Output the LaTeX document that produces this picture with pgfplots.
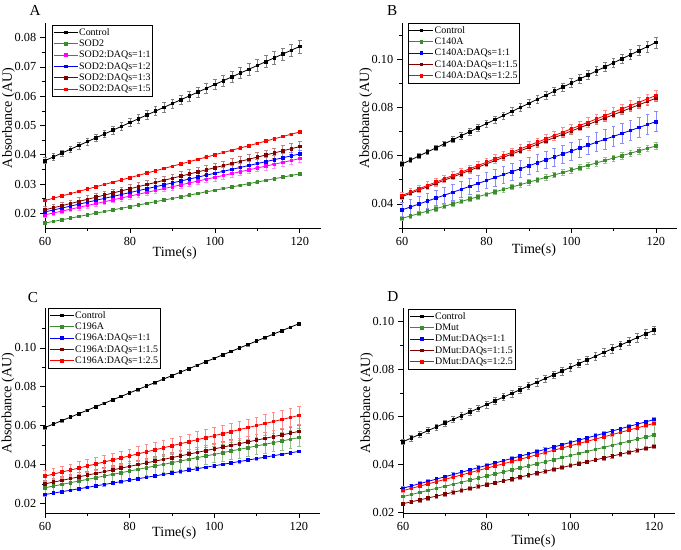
\documentclass[border=0pt]{standalone}
\usepackage{fontspec}
\setmainfont{Liberation Serif}
\usepackage{pgfplots}
\pgfplotsset{compat=1.18}
\usepackage{pgfplotstable}

\definecolor{cGreen}{HTML}{3A8C2C}
\definecolor{cMag}{HTML}{FF00FF}
\definecolor{cBlue}{HTML}{0000FF}
\definecolor{cWine}{HTML}{800000}
\definecolor{cRed}{HTML}{FF0000}

% panel A: t, Control, err, SOD2, 1:1, 1:2, err(1:1,1:2), 1:3, err, 1:5
\pgfplotstableread{
t C Ce S M B Me W We R
60 0.03800 0.00100 0.01670 0.01950 0.02050 0.00080 0.02120 0.00120 0.02440
62 0.03930 0.00104 0.01726 0.02014 0.02116 0.00082 0.02192 0.00122 0.02518
64 0.04060 0.00108 0.01782 0.02078 0.02182 0.00084 0.02264 0.00124 0.02596
66 0.04190 0.00112 0.01838 0.02142 0.02248 0.00086 0.02336 0.00126 0.02674
68 0.04320 0.00116 0.01894 0.02206 0.02314 0.00088 0.02408 0.00128 0.02752
70 0.04450 0.00120 0.01950 0.02270 0.02380 0.00090 0.02480 0.00130 0.02830
72 0.04580 0.00124 0.02006 0.02334 0.02446 0.00092 0.02552 0.00132 0.02908
74 0.04710 0.00128 0.02062 0.02398 0.02512 0.00094 0.02624 0.00134 0.02986
76 0.04840 0.00132 0.02118 0.02462 0.02578 0.00096 0.02696 0.00136 0.03064
78 0.04970 0.00136 0.02174 0.02526 0.02644 0.00098 0.02768 0.00138 0.03142
80 0.05100 0.00140 0.02230 0.02590 0.02710 0.00100 0.02840 0.00140 0.03220
82 0.05230 0.00144 0.02286 0.02654 0.02776 0.00102 0.02912 0.00142 0.03298
84 0.05360 0.00148 0.02342 0.02718 0.02842 0.00104 0.02984 0.00144 0.03376
86 0.05490 0.00152 0.02398 0.02782 0.02908 0.00106 0.03056 0.00146 0.03454
88 0.05620 0.00156 0.02454 0.02846 0.02974 0.00108 0.03128 0.00148 0.03532
90 0.05750 0.00160 0.02510 0.02910 0.03040 0.00110 0.03200 0.00150 0.03610
92 0.05880 0.00164 0.02566 0.02974 0.03106 0.00112 0.03272 0.00152 0.03688
94 0.06010 0.00168 0.02622 0.03038 0.03172 0.00114 0.03344 0.00154 0.03766
96 0.06140 0.00172 0.02678 0.03102 0.03238 0.00116 0.03416 0.00156 0.03844
98 0.06270 0.00176 0.02734 0.03166 0.03304 0.00118 0.03488 0.00158 0.03922
100 0.06400 0.00180 0.02790 0.03230 0.03370 0.00120 0.03560 0.00160 0.04000
102 0.06530 0.00184 0.02846 0.03294 0.03436 0.00122 0.03632 0.00162 0.04078
104 0.06660 0.00188 0.02902 0.03358 0.03502 0.00124 0.03704 0.00164 0.04156
106 0.06790 0.00192 0.02958 0.03422 0.03568 0.00126 0.03776 0.00166 0.04234
108 0.06920 0.00196 0.03014 0.03486 0.03634 0.00128 0.03848 0.00168 0.04312
110 0.07050 0.00200 0.03070 0.03550 0.03700 0.00130 0.03920 0.00170 0.04390
112 0.07180 0.00204 0.03126 0.03614 0.03766 0.00132 0.03992 0.00172 0.04468
114 0.07310 0.00208 0.03182 0.03678 0.03832 0.00134 0.04064 0.00174 0.04546
116 0.07440 0.00212 0.03238 0.03742 0.03898 0.00136 0.04136 0.00176 0.04624
118 0.07570 0.00216 0.03294 0.03806 0.03964 0.00138 0.04208 0.00178 0.04702
120 0.07700 0.00220 0.03350 0.03870 0.04030 0.00140 0.04280 0.00180 0.04780
}\tabA

% panel B: t, Control, err, C140A, err (also 1:1.5), 1:1, err, 1:1.5, 1:2.5, err
\pgfplotstableread{
t C Ce G Ge Bl Ble W R Re
60 0.05650 0.00100 0.03400 0.00080 0.03750 0.00300 0.04300 0.04350 0.00150
62 0.05818 0.00104 0.03500 0.00082 0.03872 0.00304 0.04436 0.04488 0.00152
64 0.05986 0.00108 0.03600 0.00084 0.03994 0.00308 0.04572 0.04626 0.00154
66 0.06154 0.00112 0.03700 0.00086 0.04116 0.00312 0.04708 0.04764 0.00156
68 0.06322 0.00116 0.03800 0.00088 0.04238 0.00316 0.04844 0.04902 0.00158
70 0.06490 0.00120 0.03900 0.00090 0.04360 0.00320 0.04980 0.05040 0.00160
72 0.06658 0.00124 0.04000 0.00092 0.04482 0.00324 0.05116 0.05178 0.00162
74 0.06826 0.00128 0.04100 0.00094 0.04604 0.00328 0.05252 0.05316 0.00164
76 0.06994 0.00132 0.04200 0.00096 0.04726 0.00332 0.05388 0.05454 0.00166
78 0.07162 0.00136 0.04300 0.00098 0.04848 0.00336 0.05524 0.05592 0.00168
80 0.07330 0.00140 0.04400 0.00100 0.04970 0.00340 0.05660 0.05730 0.00170
82 0.07498 0.00144 0.04500 0.00102 0.05092 0.00344 0.05796 0.05868 0.00172
84 0.07666 0.00148 0.04600 0.00104 0.05214 0.00348 0.05932 0.06006 0.00174
86 0.07834 0.00152 0.04700 0.00106 0.05336 0.00352 0.06068 0.06144 0.00176
88 0.08002 0.00156 0.04800 0.00108 0.05458 0.00356 0.06204 0.06282 0.00178
90 0.08170 0.00160 0.04900 0.00110 0.05580 0.00360 0.06340 0.06420 0.00180
92 0.08338 0.00164 0.05000 0.00112 0.05702 0.00364 0.06476 0.06558 0.00182
94 0.08506 0.00168 0.05100 0.00114 0.05824 0.00368 0.06612 0.06696 0.00184
96 0.08674 0.00172 0.05200 0.00116 0.05946 0.00372 0.06748 0.06834 0.00186
98 0.08842 0.00176 0.05300 0.00118 0.06068 0.00376 0.06884 0.06972 0.00188
100 0.09010 0.00180 0.05400 0.00120 0.06190 0.00380 0.07020 0.07110 0.00190
102 0.09178 0.00184 0.05500 0.00122 0.06312 0.00384 0.07156 0.07248 0.00192
104 0.09346 0.00188 0.05600 0.00124 0.06434 0.00388 0.07292 0.07386 0.00194
106 0.09514 0.00192 0.05700 0.00126 0.06556 0.00392 0.07428 0.07524 0.00196
108 0.09682 0.00196 0.05800 0.00128 0.06678 0.00396 0.07564 0.07662 0.00198
110 0.09850 0.00200 0.05900 0.00130 0.06800 0.00400 0.07700 0.07800 0.00200
112 0.10018 0.00204 0.06000 0.00132 0.06922 0.00404 0.07836 0.07938 0.00202
114 0.10186 0.00208 0.06100 0.00134 0.07044 0.00408 0.07972 0.08076 0.00204
116 0.10354 0.00212 0.06200 0.00136 0.07166 0.00412 0.08108 0.08214 0.00206
118 0.10522 0.00216 0.06300 0.00138 0.07288 0.00416 0.08244 0.08352 0.00208
120 0.10690 0.00220 0.06400 0.00140 0.07410 0.00420 0.08380 0.08490 0.00210
}\tabB

% panel C: t, Control, C196A, err, 1:1, 1:1.5, err, 1:2.5, err
\pgfplotstableread{
t C G Ge Bl W We R Re
60 0.05900 0.02800 0.00350 0.02450 0.03000 0.00200 0.03400 0.00300
62 0.06078 0.02886 0.00354 0.02524 0.03090 0.00204 0.03504 0.00306
64 0.06256 0.02972 0.00358 0.02598 0.03180 0.00208 0.03608 0.00312
66 0.06434 0.03058 0.00362 0.02672 0.03270 0.00212 0.03712 0.00318
68 0.06612 0.03144 0.00366 0.02746 0.03360 0.00216 0.03816 0.00324
70 0.06790 0.03230 0.00370 0.02820 0.03450 0.00220 0.03920 0.00330
72 0.06968 0.03316 0.00374 0.02894 0.03540 0.00224 0.04024 0.00336
74 0.07146 0.03402 0.00378 0.02968 0.03630 0.00228 0.04128 0.00342
76 0.07324 0.03488 0.00382 0.03042 0.03720 0.00232 0.04232 0.00348
78 0.07502 0.03574 0.00386 0.03116 0.03810 0.00236 0.04336 0.00354
80 0.07680 0.03660 0.00390 0.03190 0.03900 0.00240 0.04440 0.00360
82 0.07858 0.03746 0.00394 0.03264 0.03990 0.00244 0.04544 0.00366
84 0.08036 0.03832 0.00398 0.03338 0.04080 0.00248 0.04648 0.00372
86 0.08214 0.03918 0.00402 0.03412 0.04170 0.00252 0.04752 0.00378
88 0.08392 0.04004 0.00406 0.03486 0.04260 0.00256 0.04856 0.00384
90 0.08570 0.04090 0.00410 0.03560 0.04350 0.00260 0.04960 0.00390
92 0.08748 0.04176 0.00414 0.03634 0.04440 0.00264 0.05064 0.00396
94 0.08926 0.04262 0.00418 0.03708 0.04530 0.00268 0.05168 0.00402
96 0.09104 0.04348 0.00422 0.03782 0.04620 0.00272 0.05272 0.00408
98 0.09282 0.04434 0.00426 0.03856 0.04710 0.00276 0.05376 0.00414
100 0.09460 0.04520 0.00430 0.03930 0.04800 0.00280 0.05480 0.00420
102 0.09638 0.04606 0.00434 0.04004 0.04890 0.00284 0.05584 0.00426
104 0.09816 0.04692 0.00438 0.04078 0.04980 0.00288 0.05688 0.00432
106 0.09994 0.04778 0.00442 0.04152 0.05070 0.00292 0.05792 0.00438
108 0.10172 0.04864 0.00446 0.04226 0.05160 0.00296 0.05896 0.00444
110 0.10350 0.04950 0.00450 0.04300 0.05250 0.00300 0.06000 0.00450
112 0.10528 0.05036 0.00454 0.04374 0.05340 0.00304 0.06104 0.00456
114 0.10706 0.05122 0.00458 0.04448 0.05430 0.00308 0.06208 0.00462
116 0.10884 0.05208 0.00462 0.04522 0.05520 0.00312 0.06312 0.00468
118 0.11062 0.05294 0.00466 0.04596 0.05610 0.00316 0.06416 0.00474
120 0.11240 0.05380 0.00470 0.04670 0.05700 0.00320 0.06520 0.00480
}\tabC

% panel D: t, Control, err, DMut, err, 1:1, 1:1.5, 1:2.5
\pgfplotstableread{
t C Ce G Ge Bl W R
60 0.04950 0.00120 0.02650 0.00250 0.03000 0.02350 0.02900
62 0.05106 0.00122 0.02736 0.00258 0.03096 0.02430 0.02994
64 0.05262 0.00124 0.02822 0.00266 0.03192 0.02510 0.03088
66 0.05418 0.00126 0.02908 0.00274 0.03288 0.02590 0.03182
68 0.05574 0.00128 0.02994 0.00282 0.03384 0.02670 0.03276
70 0.05730 0.00130 0.03080 0.00290 0.03480 0.02750 0.03370
72 0.05886 0.00132 0.03166 0.00298 0.03576 0.02830 0.03464
74 0.06042 0.00134 0.03252 0.00306 0.03672 0.02910 0.03558
76 0.06198 0.00136 0.03338 0.00314 0.03768 0.02990 0.03652
78 0.06354 0.00138 0.03424 0.00322 0.03864 0.03070 0.03746
80 0.06510 0.00140 0.03510 0.00330 0.03960 0.03150 0.03840
82 0.06666 0.00142 0.03596 0.00338 0.04056 0.03230 0.03934
84 0.06822 0.00144 0.03682 0.00346 0.04152 0.03310 0.04028
86 0.06978 0.00146 0.03768 0.00354 0.04248 0.03390 0.04122
88 0.07134 0.00148 0.03854 0.00362 0.04344 0.03470 0.04216
90 0.07290 0.00150 0.03940 0.00370 0.04440 0.03550 0.04310
92 0.07446 0.00152 0.04026 0.00378 0.04536 0.03630 0.04404
94 0.07602 0.00154 0.04112 0.00386 0.04632 0.03710 0.04498
96 0.07758 0.00156 0.04198 0.00394 0.04728 0.03790 0.04592
98 0.07914 0.00158 0.04284 0.00402 0.04824 0.03870 0.04686
100 0.08070 0.00160 0.04370 0.00410 0.04920 0.03950 0.04780
102 0.08226 0.00162 0.04456 0.00418 0.05016 0.04030 0.04874
104 0.08382 0.00164 0.04542 0.00426 0.05112 0.04110 0.04968
106 0.08538 0.00166 0.04628 0.00434 0.05208 0.04190 0.05062
108 0.08694 0.00168 0.04714 0.00442 0.05304 0.04270 0.05156
110 0.08850 0.00170 0.04800 0.00450 0.05400 0.04350 0.05250
112 0.09006 0.00172 0.04886 0.00458 0.05496 0.04430 0.05344
114 0.09162 0.00174 0.04972 0.00466 0.05592 0.04510 0.05438
116 0.09318 0.00176 0.05058 0.00474 0.05688 0.04590 0.05532
118 0.09474 0.00178 0.05144 0.00482 0.05784 0.04670 0.05626
120 0.09630 0.00180 0.05230 0.00490 0.05880 0.04750 0.05720
}\tabD

\pgfplotsset{
  /pgf/number format/assume math mode=true,
  every axis title shift=0pt,
  panel/.style={
    scale only axis, clip=false,
    axis x line*=bottom, axis y line*=left,
    xmin=60, xmax=125, xtick={60,80,100,120}, minor x tick num=1,
    tick align=outside,
    major tick length=4pt, minor tick length=2.5pt,
    tick style={black, line width=0.5pt},
    axis line style={line width=0.6pt},
    scaled y ticks=false,
    yticklabel style={/pgf/number format/fixed, /pgf/number format/fixed zerofill, /pgf/number format/precision=2},
    tick label style={font=\fontsize{10.5}{12}\selectfont},
    label style={font=\fontsize{12}{14}\selectfont},
    xlabel={Time(s)}, ylabel={Absorbance (AU)},
    ylabel style={anchor=center},
    xlabel style={anchor=center},
    title style={anchor=center, font=\fontsize{13}{15}\selectfont},
    legend cell align=left,
    legend style={anchor=north west, font=\fontsize{8.5}{10}\selectfont,
      draw=black, line width=0.5pt, inner xsep=1pt, inner ysep=1.2pt,
      nodes={inner sep=0.8pt, text height=6.3pt, text depth=1.8pt}, row sep=0pt},
    legend image code/.code={\draw[mark repeat=2,mark phase=2,##1] plot coordinates {(0cm,0cm)(0.36cm,0cm)(0.72cm,0cm)};},
    every axis plot/.append style={line width=0.7pt, mark=square*, mark size=1.1pt},
  },
  ebx/.style={error bars/.cd, y dir=both, y explicit,
    error bar style={#1, line width=0.5pt},
    error mark options={rotate=90, #1, line width=0.5pt, mark size=1.6pt}},
  ebf/.style 2 args={error bars/.cd, y dir=both, y fixed=#2,
    error bar style={#1, line width=0.5pt},
    error mark options={rotate=90, #1, line width=0.5pt, mark size=1.6pt}},
}

\begin{document}
\begin{tikzpicture}
\path[use as bounding box] (0,0) rectangle (20.43cm,16.47cm);

% A
\begin{axis}[panel, at={(1.35cm,9.63cm)}, anchor=south west,
    width=8.28cm, height=6.15cm,
    ymin=0.015, ymax=0.085,
    ytick={0.02,0.03,0.04,0.05,0.06,0.07,0.08},
    minor ytick={0.025,0.035,0.045,0.055,0.065,0.075},
    title={A}, title style={at={(-0.036,1.063)}},
    ylabel style={at={(-0.132,0.537)}},
    xlabel style={at={(0.47,-0.122)}},
    legend style={at={(0.025,0.99)}, anchor=north west}]
\addplot[black, ebx={black!50}] table[x=t, y=C, y error=Ce] {\tabA};
\addlegendentry{Control}
\addplot[cGreen, ebf={cGreen!55}{0.0003}] table[x=t, y=S] {\tabA};
\addlegendentry{SOD2}
\addplot[cMag, ebx={cMag!45}] table[x=t, y=M, y error=Me] {\tabA};
\addlegendentry{SOD2:DAQs=1:1}
\addplot[cBlue, ebx={cBlue!45}] table[x=t, y=B, y error=Me] {\tabA};
\addlegendentry{SOD2:DAQs=1:2}
\addplot[cWine, ebx={cWine!50}] table[x=t, y=W, y error=We] {\tabA};
\addlegendentry{SOD2:DAQs=1:3}
\addplot[cRed, ebf={cRed!45}{0.0003}] table[x=t, y=R] {\tabA};
\addlegendentry{SOD2:DAQs=1:5}
\end{axis}

% B
\begin{axis}[panel, at={(12.06cm,9.63cm)}, anchor=south west,
    width=8.25cm, height=6.15cm,
    ymin=0.03, ymax=0.115,
    ytick={0.04,0.06,0.08,0.10},
    minor ytick={0.03,0.05,0.07,0.09,0.11},
    title={B}, title style={at={(-0.036,1.063)}},
    ylabel style={at={(-0.132,0.537)}},
    xlabel style={at={(0.48,-0.11)}},
    legend style={at={(0.02,1.0)}, anchor=north west}]
\addplot[black, ebx={black!50}] table[x=t, y=C, y error=Ce] {\tabB};
\addlegendentry{Control}
\addplot[cGreen, ebx={cGreen!55}] table[x=t, y=G, y error=Ge] {\tabB};
\addlegendentry{C140A}
\addplot[cBlue, ebx={cBlue!45}] table[x=t, y=Bl, y error=Ble] {\tabB};
\addlegendentry{C140A:DAQs=1:1}
\addplot[cWine, ebx={cWine!50}] table[x=t, y=W, y error=Ge] {\tabB};
\addlegendentry{C140A:DAQs=1:1.5}
\addplot[cRed, ebx={cRed!45}] table[x=t, y=R, y error=Re] {\tabB};
\addlegendentry{C140A:DAQs=1:2.5}
\end{axis}

% C
\begin{axis}[panel, at={(1.35cm,1.08cm)}, anchor=south west,
    width=8.25cm, height=6.15cm,
    ymin=0.015, ymax=0.1205,
    ytick={0.02,0.04,0.06,0.08,0.10},
    minor ytick={0.03,0.05,0.07,0.09,0.11},
    title={C}, title style={at={(-0.044,1.049)}},
    ylabel style={at={(-0.135,0.537)}},
    xlabel style={at={(0.47,-0.098)}},
    legend style={at={(0.011,1.0)}, anchor=north west}]
\addplot[black, ebf={black!50}{0.0007}] table[x=t, y=C] {\tabC};
\addlegendentry{Control}
\addplot[cGreen, ebx={cGreen!55}] table[x=t, y=G, y error=Ge] {\tabC};
\addlegendentry{C196A}
\addplot[cBlue, ebf={cBlue!45}{0.0007}] table[x=t, y=Bl] {\tabC};
\addlegendentry{C196A:DAQs=1:1}
\addplot[cWine, ebx={cWine!50}] table[x=t, y=W, y error=We] {\tabC};
\addlegendentry{C196A:DAQs=1:1.5}
\addplot[cRed, ebx={cRed!45}] table[x=t, y=R, y error=Re] {\tabC};
\addlegendentry{C196A:DAQs=1:2.5}
\end{axis}

% D
\begin{axis}[panel, at={(12.09cm,1.08cm)}, anchor=south west,
    width=8.16cm, height=6.15cm,
    ymin=0.0196, ymax=0.1056,
    ytick={0.02,0.04,0.06,0.08,0.10},
    minor ytick={0.03,0.05,0.07,0.09},
    title={D}, title style={at={(-0.037,1.054)}},
    ylabel style={at={(-0.133,0.537)}},
    xlabel style={at={(0.48,-0.135)}},
    legend style={at={(0.018,0.995)}, anchor=north west}]
\addplot[black, ebx={black!50}] table[x=t, y=C, y error=Ce] {\tabD};
\addlegendentry{Control}
\addplot[cGreen, ebx={cGreen!55}] table[x=t, y=G, y error=Ge] {\tabD};
\addlegendentry{DMut}
\addplot[cBlue, ebf={cBlue!45}{0.0008}] table[x=t, y=Bl] {\tabD};
\addlegendentry{DMut:DAQs=1:1}
\addplot[cWine, ebf={cWine!50}{0.0008}] table[x=t, y=W] {\tabD};
\addlegendentry{DMut:DAQs=1:1.5}
\addplot[cRed, ebf={cRed!45}{0.0006}] table[x=t, y=R] {\tabD};
\addlegendentry{DMut:DAQs=1:2.5}
\end{axis}
\end{tikzpicture}
\end{document}
